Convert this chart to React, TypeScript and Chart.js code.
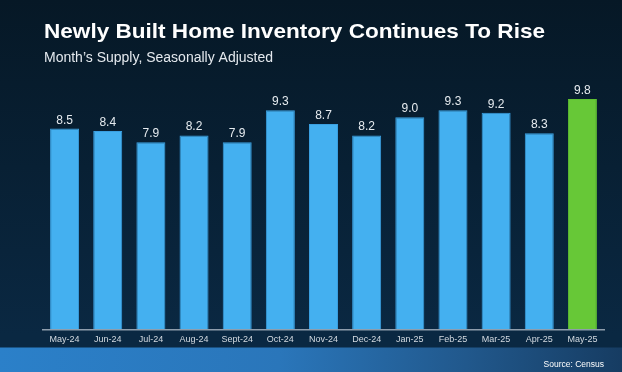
import React, { useEffect, useRef } from "react";
import { Chart, registerables } from "chart.js";

Chart.register(...registerables);

const categories = [
  "May-24", "Jun-24", "Jul-24", "Aug-24", "Sept-24", "Oct-24", "Nov-24",
  "Dec-24", "Jan-25", "Feb-25", "Mar-25", "Apr-25", "May-25",
];
const supplyValues = [8.5, 8.4, 7.9, 8.2, 7.9, 9.3, 8.7, 8.2, 9.0, 9.3, 9.2, 8.3, 9.8];
const highlightIndex = 12;
const axisMin = -0.34;
const axisMax = 10.5;
const titleText = "Newly Built Home Inventory Continues To Rise";
const subtitleText = "Month\u2019s Supply, Seasonally Adjusted";
const sourceText = "Source: Census";

const FONT = "'Liberation Sans', Arial, Helvetica, sans-serif";

const decorPlugin = {
  id: "decor",
  beforeDraw(chart: any) {
    const { ctx, width, height } = chart;
    ctx.save();
    const bg = ctx.createLinearGradient(0, 0, 0, height);
    bg.addColorStop(0, "#061826");
    bg.addColorStop(0.9, "#0a2842");
    ctx.fillStyle = bg;
    ctx.fillRect(0, 0, width, height);
    const bandTop = 347.5;
    const band = ctx.createLinearGradient(0, bandTop, width, height);
    band.addColorStop(0, "#2b80c9");
    band.addColorStop(0.45, "#2a76ba");
    band.addColorStop(0.75, "#21588c");
    band.addColorStop(1, "#163c62");
    ctx.fillStyle = band;
    ctx.fillRect(0, bandTop, width, height - bandTop);

    // title
    ctx.fillStyle = "#ffffff";
    ctx.textBaseline = "alphabetic";
    ctx.textAlign = "left";
    ctx.font = `bold 21px ${FONT}`;
    const tw = ctx.measureText(titleText).width;
    ctx.save();
    ctx.translate(44, 37.5);
    ctx.scale(501 / tw, 1);
    ctx.fillText(titleText, 0, 0);
    ctx.restore();

    ctx.fillStyle = "#e4e9ee";
    ctx.font = `14px ${FONT}`;
    ctx.fillText(subtitleText, 44, 61.8);

    ctx.fillStyle = "#ffffff";
    ctx.font = `8.5px ${FONT}`;
    ctx.textAlign = "right";
    ctx.fillText(sourceText, 604, 366.5);
    ctx.restore();
  },
  afterDatasetsDraw(chart: any) {
    const { ctx } = chart;
    const meta = chart.getDatasetMeta(0);
    ctx.save();
    ctx.fillStyle = "#e6ebef";
    ctx.font = `12px ${FONT}`;
    ctx.textAlign = "center";
    ctx.textBaseline = "alphabetic";
    meta.data.forEach((bar: any, i: number) => {
      ctx.fillText(supplyValues[i].toFixed(1), bar.x, bar.y - 5);
    });
    ctx.restore();
  },
};

export default function App() {
  const ref = useRef<HTMLCanvasElement | null>(null);
  useEffect(() => {
    document.body.style.margin = "0";
    const canvas = ref.current;
    if (!canvas) return;
    const chart = new Chart(canvas, {
      type: "bar",
      data: {
        labels: categories,
        datasets: [
          {
            data: supplyValues,
            base: axisMin,
            backgroundColor: supplyValues.map((_, i) => (i === highlightIndex ? "#67c837" : "#44b0f0")),
            borderColor: supplyValues.map((_, i) => (i === highlightIndex ? "#5fc032" : "#3a9fe0")),
            borderWidth: 1,
            borderSkipped: "bottom",
            categoryPercentage: 1,
            barPercentage: 0.672,
          } as any,
        ],
      },
      plugins: [decorPlugin],
      options: {
        responsive: false,
        animation: false,
        devicePixelRatio: 1,
        layout: { padding: { left: 43, right: 18, top: 83, bottom: 23 } },
        plugins: {
          legend: { display: false },
          tooltip: { enabled: false },
          title: { display: false },
        },
        scales: {
          x: {
            grid: { display: false, drawTicks: false },
            border: { display: true, color: "#8e9dac", width: 1.5, z: 1 },
            ticks: {
              color: "#d3dae1",
              font: { family: FONT, size: 9 },
              padding: 4,
              maxRotation: 0,
              autoSkip: false,
            },
          },
          y: {
            display: false,
            min: axisMin,
            max: axisMax,
          },
        },
      },
    });
    return () => chart.destroy();
  }, []);
  return (
    <div style={{ width: 622, height: 372 }}>
      <canvas ref={ref} width={622} height={372} style={{ display: "block" }} />
    </div>
  );
}
